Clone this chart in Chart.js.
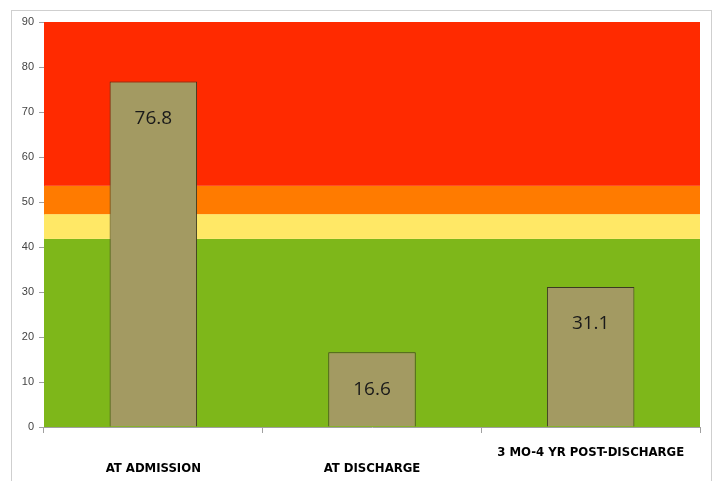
<!DOCTYPE html>
<html>
<head>
<meta charset="utf-8">
<script src="https://cdn.jsdelivr.net/npm/chart.js@4"></script>
<style>
    html, body { margin: 0; padding: 0; background: #fff; }
    #wrap { width: 713px; height: 481px; }
</style>
</head>
<body>
<div id="wrap"><canvas id="myChart"></canvas></div>
<script>
// bar data
const categories = ['AT ADMISSION', 'AT DISCHARGE', '3 MO-4 YR POST-DISCHARGE'];
const scores = [76.8, 16.6, 31.1];
const yTicks = [0, 10, 20, 30, 40, 50, 60, 70, 80, 90];

// risk zones behind the bars (lower/upper bounds)
const zoneEdges = [0, 41.8, 47.3, 53.6, 90];
const zoneColors = ['#7EB71A', '#FFE866', '#FF7B00', '#FF2A00'];

// the long label sits one line higher than the others
const tickLabels = categories.map((c, i) => i < 2 ? ['', c] : c);

const zonesPlugin = {
    id: 'zones',
    beforeDraw(chart) {
        const c = chart.ctx;
        // light frame around the whole chart
        c.save();
        c.strokeStyle = '#cfcfcf';
        c.lineWidth = 1;
        c.strokeRect(11.5, 10.5, 700, 480);
        c.restore();
    },
    beforeDatasetsDraw(chart) {
        const c = chart.ctx;
        const area = chart.chartArea;
        const y = chart.scales.y;
        c.save();
        for (let i = 0; i < zoneColors.length; i++) {
            const top = y.getPixelForValue(zoneEdges[i + 1]);
            const bot = y.getPixelForValue(zoneEdges[i]);
            c.fillStyle = zoneColors[i];
            c.fillRect(area.left, top, area.right - area.left, bot - top);
        }
        c.restore();
    }
};

const valueLabels = {
    id: 'valueLabels',
    afterDatasetsDraw(chart) {
        const c = chart.ctx;
        const meta = chart.getDatasetMeta(0);
        c.save();
        c.font = '19px "Open Sans", sans-serif';
        c.fillStyle = '#1a1a1a';
        c.textAlign = 'center';
        c.textBaseline = 'middle';
        meta.data.forEach((bar, i) => {
            c.fillText(scores[i].toFixed(1), bar.x, bar.y + 37);
        });
        c.restore();
    }
};

new Chart(document.getElementById('myChart'), {
    type: 'bar',
    data: {
        labels: tickLabels,
        datasets: [{
            data: scores,
            backgroundColor: '#A39A62',
            borderColor: '#3b3a22',
            borderWidth: 1,
            barPercentage: 0.4,
            categoryPercentage: 1
        }]
    },
    options: {
        responsive: true,
        maintainAspectRatio: false,
        animation: false,
        layout: { padding: { top: 22, right: 13, left: 0, bottom: 0 } },
        plugins: {
            legend: { display: false },
            tooltip: { enabled: false }
        },
        scales: {
            x: {
                afterFit(scale) { scale.height = 54; },
                border: { color: '#a0a0a0' },
                grid: {
                    offset: true,
                    drawOnChartArea: false,
                    tickLength: 6,
                    color: '#a0a0a0'
                },
                ticks: {
                    padding: 11,
                    color: '#000',
                    maxRotation: 0,
                    minRotation: 0,
                    autoSkip: false,
                    font: { family: 'DejaVu Sans Condensed, sans-serif', size: 13, weight: 'bold', lineHeight: 1.28 }
                }
            },
            y: {
                min: 0,
                max: 90,
                afterFit(scale) { scale.width = 44; },
                afterBuildTicks(scale) { scale.ticks = yTicks.map(v => ({ value: v })); },
                border: { color: '#a0a0a0' },
                grid: {
                    drawOnChartArea: false,
                    tickLength: 5,
                    color: '#a0a0a0'
                },
                ticks: {
                    padding: 5,
                    color: '#444',
                    font: { family: 'Liberation Sans, sans-serif', size: 11 }
                }
            }
        }
    },
    plugins: [zonesPlugin, valueLabels]
});
</script>
</body>
</html>
